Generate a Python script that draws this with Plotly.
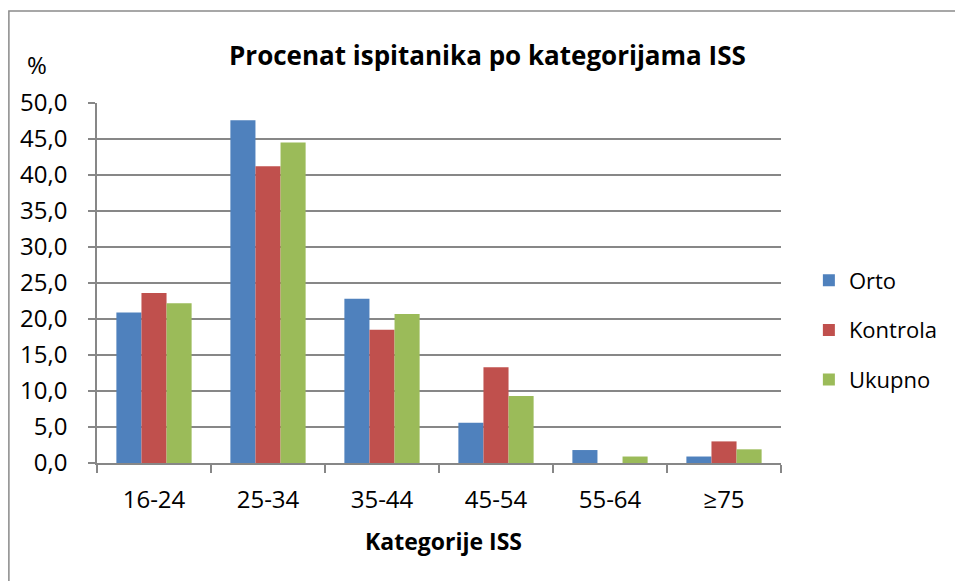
import plotly.graph_objects as go

categories = ["16-24", "25-34", "35-44", "45-54", "55-64", "≥75"]
orto = [20.9, 47.6, 22.8, 5.6, 1.8, 0.9]
kontrola = [23.6, 41.2, 18.5, 13.3, 0.0, 3.0]
ukupno = [22.2, 44.5, 20.7, 9.3, 0.9, 1.9]
series_names = ["Orto", "Kontrola", "Ukupno"]
colors = ["#4F81BD", "#C0504D", "#9BBB59"]
y_ticks = [0, 5, 10, 15, 20, 25, 30, 35, 40, 45, 50]

FONT = "Open Sans"
GRID = "#878787"

fig = go.Figure()
for name, vals, col in zip(series_names, [orto, kontrola, ukupno], colors):
    fig.add_trace(go.Bar(x=categories, y=vals, name=name, marker=dict(color=col, line=dict(width=0)),
                         legendgroup=name))

L, R, T, B = 97, 171, 103, 118
W, H = 955, 581
pw, ph = W - L - R, H - T - B

def px(xp):
    return (xp - L) / pw

def py(yp):
    return (H - B - yp) / ph

fig.update_layout(
    width=W, height=H,
    margin=dict(l=L, r=R, t=T, b=B),
    paper_bgcolor="white", plot_bgcolor="white",
    font=dict(family=FONT, size=24, color="black"),
    separators=",.",
    barmode="group", bargap=0.34, bargroupgap=0,
    showlegend=True,
    legend=dict(x=px(812), xanchor="left", y=py(330), yanchor="middle",
                font=dict(size=22), tracegroupgap=18, traceorder="grouped",
                bgcolor="rgba(0,0,0,0)"),
    xaxis=dict(type="category", showline=True, linecolor=GRID, linewidth=1.5,
               ticks="outside", tickson="boundaries", ticklen=8, tickcolor=GRID, tickwidth=1.5,
               showgrid=False, ticklabelstandoff=14, fixedrange=True, tickfont=dict(size=24)),
    yaxis=dict(range=[0, 50], tickvals=y_ticks, tickformat=".1f", showline=True,
               linecolor=GRID, linewidth=1.5, ticks="outside", ticklen=7, tickcolor=GRID,
               tickwidth=1.5, showgrid=True, gridcolor=GRID, gridwidth=1.5,
               ticklabelstandoff=16, zeroline=False, tickfont=dict(size=24), fixedrange=True),
    annotations=[
        dict(text="<b>Procenat ispitanika po kategorijama ISS</b>", xref="paper", yref="paper",
             x=px(489), y=py(55), xanchor="center", yanchor="middle", showarrow=False,
             font=dict(size=26)),
        dict(text="%", xref="paper", yref="paper", x=px(37), y=py(65), xanchor="center",
             yanchor="middle", showarrow=False, font=dict(size=24)),
        dict(text="<b>Kategorije ISS</b>", xref="paper", yref="paper", x=px(445), y=py(541),
             xanchor="center", yanchor="middle", showarrow=False, font=dict(size=23)),
    ],
    shapes=[
        dict(type="rect", xref="paper", yref="paper", x0=px(8.5), x1=px(1000), y0=py(620), y1=py(11),
             line=dict(color="#8a8a8a", width=1.5), fillcolor="rgba(0,0,0,0)", layer="below"),
    ],
)

fig.write_html("out.html", config={"displayModeBar": False},
               post_script="document.body.style.margin='0';")
